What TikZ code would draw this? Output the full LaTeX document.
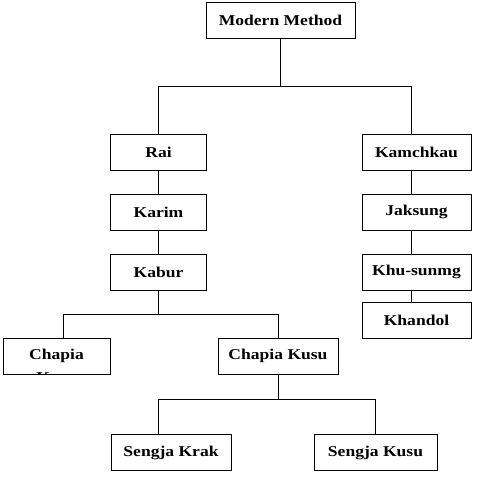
\documentclass[tikz,border=0pt]{standalone}
\usepackage{fontspec}
\setmainfont[FakeStretch=1.17]{Liberation Serif}
\usetikzlibrary{positioning}
\tikzset{
  box/.style={draw=black, line width=0.8pt, align=center, inner sep=2pt, outer sep=0pt, minimum height=36pt, font=\fontsize{15}{18}\selectfont\bfseries},
  link/.style={line width=0.8pt},
  cliptext/.style={inner sep=0pt, anchor=base, font=\fontsize{15}{18}\selectfont\bfseries}
}

\begin{document}
\begin{tikzpicture}[x=1pt, y=-1pt, node distance=24pt]
\useasboundingbox (0,0) rectangle (495,483);
\node[box, minimum width=149pt] (top) at (280.5,20.5) {Modern Method};
\node[box, minimum width=96pt] (rai) at (158.5,152) {Rai};
\node[box, below=of rai, minimum width=96pt] (karim) {Karim};
\node[box, below=of karim, minimum width=96pt] (kabur) {Kabur};
\node[box, minimum width=109pt] (kamch) at (416.5,152) {Kamchkau};
\node[box, below=of kamch, minimum width=109pt] (jaksung) {Jaksung};
\node[box, below=of jaksung, minimum width=109pt] (khusunmg) {Khu-sunmg};
\node[box, below=12pt of khusunmg, minimum width=109pt] (khandol) {Khandol};
\node[box, minimum width=107pt] (chapia) at (56.5,356) {Chapia};
\node[box, minimum width=120pt] (chapiakusu) at (278,356) {Chapia Kusu};
\node[box, minimum width=120pt] (sengjakrak) at (171,452.5) {Sengja Krak};
\node[box, minimum width=123pt] (sengjakusu) at (375.5,452.5) {Sengja Kusu};
% second line of the narrow box, cut off by its frame
\begin{scope}
\clip (chapia.south west) rectangle (chapia.north east);
\node[cliptext] (chapiarest) at ([yshift=-23pt]chapia.base) {Kusu};
\end{scope}
\draw[link] (rai.north) -- ++(0,-48) coordinate (fork1) -| ([xshift=-5pt]kamch.north);
\draw[link] (top.south) -- (top.south |- fork1);
\draw[link] (rai) -- (karim);
\draw[link] (karim) -- (kabur);
\draw[link] ([xshift=-5pt]kamch.south) -- ([xshift=-5pt]jaksung.north);
\draw[link] ([xshift=-5pt]jaksung.south) -- ([xshift=-5pt]khusunmg.north);
\draw[link] ([xshift=-5pt]khusunmg.south) -- ([xshift=-5pt]khandol.north);
\draw[link] ([xshift=6.5pt]chapia.north) -- ++(0,-24) coordinate (fork2) -| (chapiakusu.north);
\draw[link] (kabur.south) -- (kabur.south |- fork2);
\draw[link] (chapiakusu.south) -- ++(0,25);
\draw[link] ([xshift=-13pt]sengjakrak.north) -- ++(0,-35) -| (sengjakusu.north);
\end{tikzpicture}
\end{document}
